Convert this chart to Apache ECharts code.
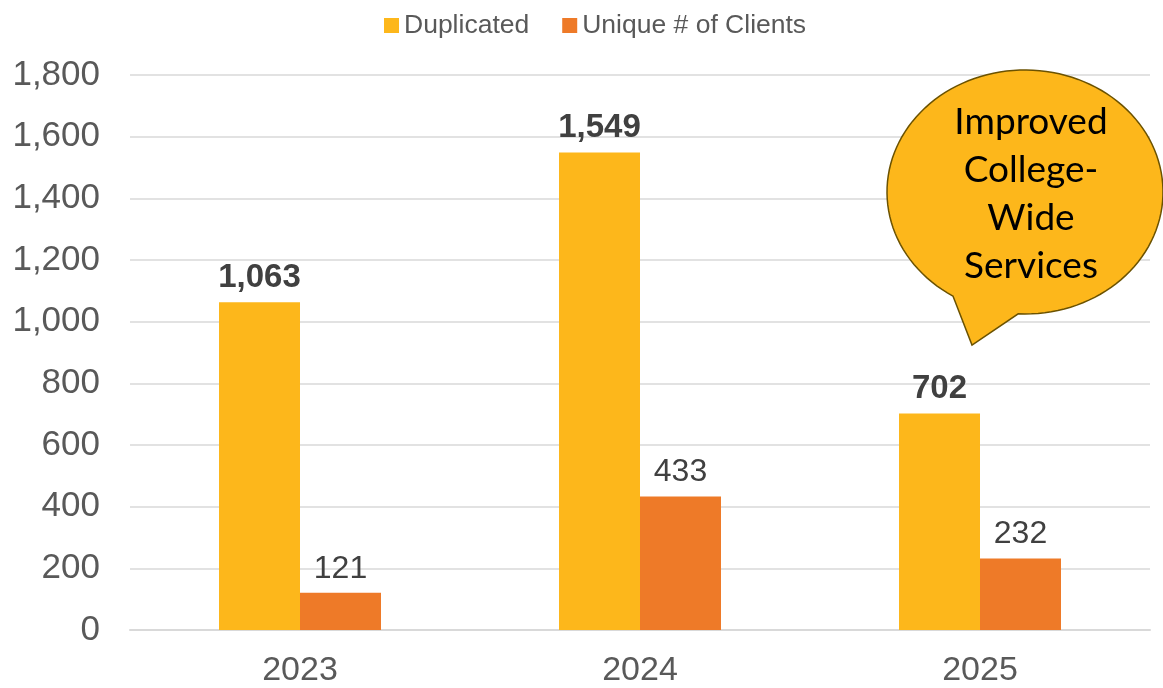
<!DOCTYPE html>
<html>
<head>
<meta charset="utf-8">
<script src="https://cdn.jsdelivr.net/npm/echarts@6/dist/echarts.min.js"></script>
<style>
  html, body { margin: 0; padding: 0; background: #fff; }
  #chart { width: 1163px; height: 688px; }
</style>
</head>
<body>
<div id="chart"></div>
<script>
const years = ["2023", "2024", "2025"];
const duplicated = [1063, 1549, 702];
const uniqueClients = [121, 433, 232];
const yTicks = { min: 0, max: 1800, interval: 200 };
const calloutLines = ["Improved", "College-", "Wide", "Services"];

const chart = echarts.init(document.getElementById("chart"));
const font = "'Liberation Sans', Arial, sans-serif";

// speech bubble outline: ellipse with a tail cut in
function bubblePoints(cx, cy, rx, ry, tip) {
  const pts = [];
  const a0 = 1.62, a1 = 2.12; // angles (rad, y down) where tail joins
  const n = 120;
  for (let i = 0; i <= n; i++) {
    const a = a1 + (i / n) * (Math.PI * 2 - (a1 - a0));
    pts.push([cx + rx * Math.cos(a), cy + ry * Math.sin(a)]);
  }
  pts.push(tip);
  return pts;
}

const option = {
  animation: false,
  legend: {
    top: 7,
    left: 379,
    itemWidth: 15,
    itemHeight: 15,
    itemGap: 33,
    icon: "rect",
    textStyle: { fontFamily: font, fontSize: 26.5, color: "#595959" },
    data: ["Duplicated", "Unique # of Clients"]
  },
  grid: { left: 130, right: 13, top: 75, bottom: 58 },
  xAxis: {
    type: "category",
    data: years,
    axisLine: { lineStyle: { color: "#d9d9d9", width: 2 } },
    axisTick: { show: false },
    axisLabel: { fontFamily: font, fontSize: 34, color: "#595959", margin: 24 }
  },
  yAxis: {
    type: "value",
    min: yTicks.min,
    max: yTicks.max,
    interval: yTicks.interval,
    axisLine: { show: false },
    axisTick: { show: false },
    splitLine: { lineStyle: { color: "#d9d9d9", width: 1.5 } },
    axisLabel: {
      fontFamily: font, fontSize: 35, color: "#595959", margin: 30,
      formatter: v => v.toLocaleString("en-US")
    }
  },
  series: [
    {
      name: "Duplicated",
      type: "bar",
      data: duplicated,
      barWidth: 81,
      barGap: "0%",
      itemStyle: { color: "#FDB71B" },
      label: {
        show: true, position: "top", distance: 8,
        fontFamily: font, fontSize: 33, fontWeight: "bold", color: "#404040",
        formatter: p => p.value.toLocaleString("en-US")
      }
    },
    {
      name: "Unique # of Clients",
      type: "bar",
      data: uniqueClients,
      barWidth: 81,
      itemStyle: { color: "#EE7A28" },
      label: {
        show: true, position: "top", distance: 8,
        fontFamily: font, fontSize: 32, color: "#404040"
      }
    }
  ],
  graphic: [
    {
      type: "polygon",
      z: 100,
      shape: { points: bubblePoints(1025, 192, 138, 122, [972, 345]) },
      style: { fill: "#FDB71B", stroke: "#6b5200", lineWidth: 1.5 }
    },
    {
      type: "text",
      z: 101,
      style: {
        x: 1031,
        y: 98,
        text: calloutLines.join("\n"),
        align: "center",
        verticalAlign: "top",
        fontFamily: "Lato, 'Open Sans', sans-serif",
        fontSize: 37,
        lineHeight: 48,
        fill: "#000"
      }
    }
  ]
};

chart.setOption(option);
</script>
</body>
</html>
